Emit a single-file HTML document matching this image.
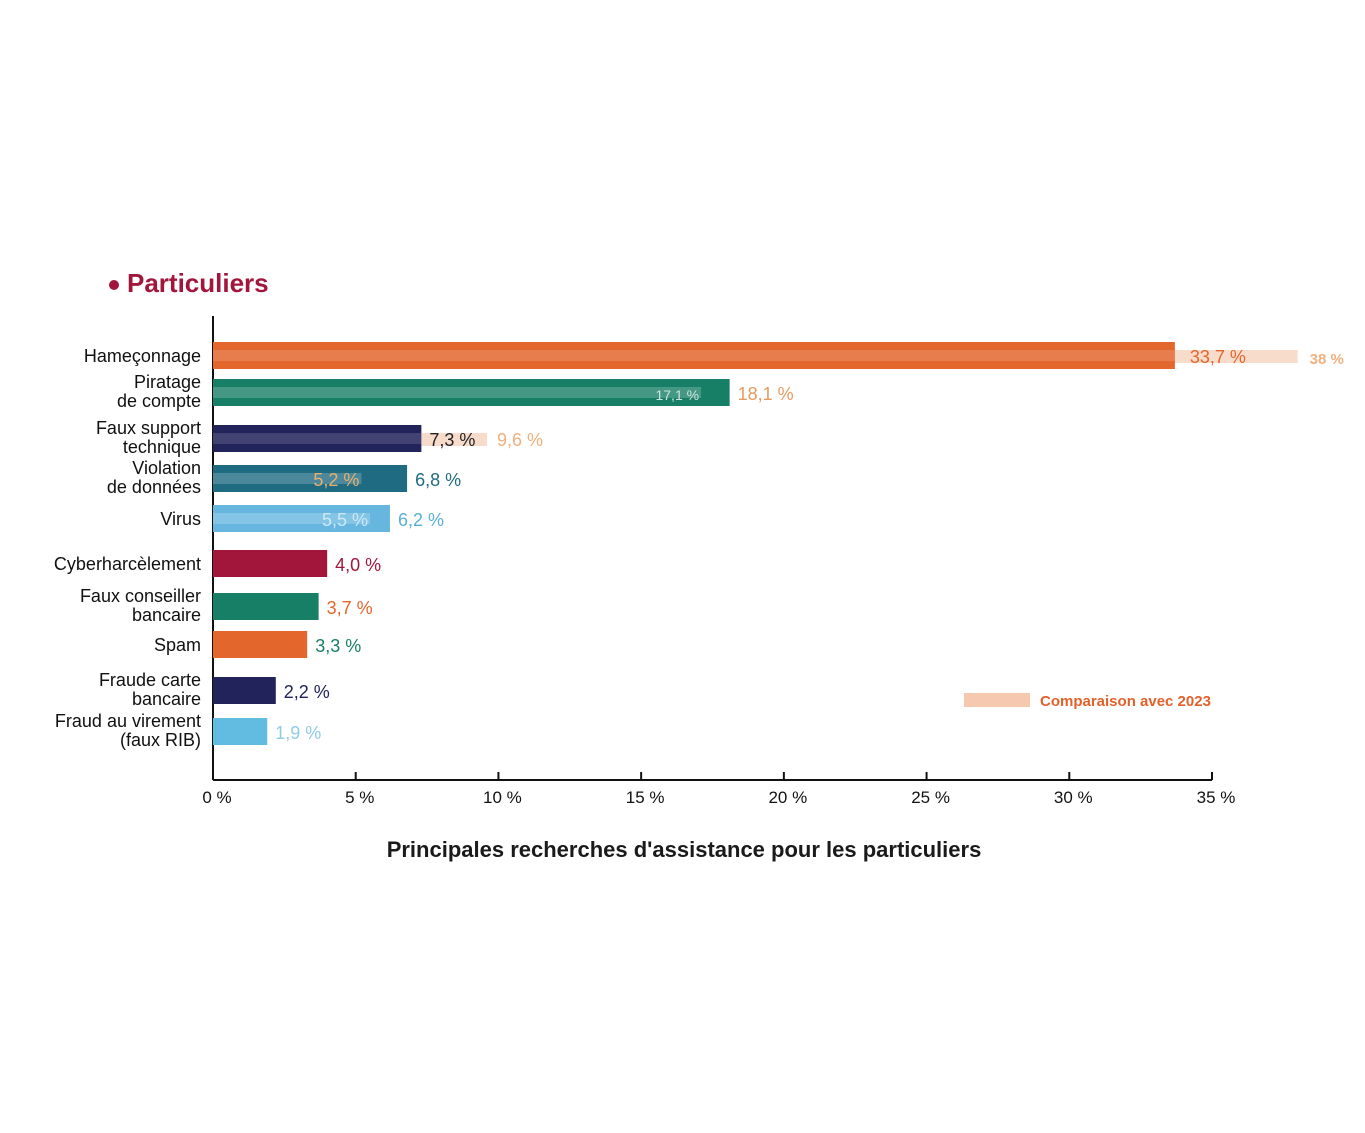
<!DOCTYPE html>
<html><head><meta charset="utf-8">
<style>
html,body{margin:0;padding:0;background:#fff;}
svg{display:block;font-family:"Liberation Sans",sans-serif;}
</style></head>
<body>
<svg id="chart" width="1365" height="1133" viewBox="0 0 1365 1133">
<circle cx="114" cy="285" r="5" fill="#a3163c"/>
<text x="127" y="292" font-size="26" font-weight="bold" fill="#a3163c">Particuliers</text>
<line x1="213" y1="316" x2="213" y2="780" stroke="#111" stroke-width="2"/>
<line x1="213" y1="780" x2="1212" y2="780" stroke="#111" stroke-width="2"/>
<g id="ticks"></g>
<g id="bars"></g>
<rect x="964" y="693" width="66" height="14" fill="#f6c8b0"/>
<text x="1040" y="706" font-size="15" font-weight="bold" fill="#e3612a">Comparaison avec 2023</text>
<text x="684" y="857" font-size="22" font-weight="bold" fill="#1a1a1a" text-anchor="middle">Principales recherches d'assistance pour les particuliers</text>
</svg>
<script>
const categories=[["Hameçonnage"],["Piratage","de compte"],["Faux support","technique"],["Violation","de données"],["Virus"],["Cyberharcèlement"],["Faux conseiller","bancaire"],["Spam"],["Fraude carte","bancaire"],["Fraud au virement","(faux RIB)"]];
const values2024=[33.7,18.1,7.3,6.8,6.2,4.0,3.7,3.3,2.2,1.9];
const values2023=[38,17.1,9.6,5.2,5.5,null,null,null,null,null];
const valueLabels=["33,7 %","18,1 %","7,3 %","6,8 %","6,2 %","4,0 %","3,7 %","3,3 %","2,2 %","1,9 %"];
const labels2023=["38 %","17,1 %","9,6 %","5,2 %","5,5 %",null,null,null,null,null];
const tickValues=[0,5,10,15,20,25,30,35];
const tickLabels=["0 %","5 %","10 %","15 %","20 %","25 %","30 %","35 %"];
const colors=["#e3662d","#167f66","#22235a","#1f6b82","#66b6df","#a3163c","#167f66","#e3662d","#22235a","#62bce2"];
const labelColors=["#e3662d","#e89a60","#222","#1f6b82","#5aaed8","#a3163c","#e3662d","#167f66","#22235a","#8fcbe8"];
const rowTops=[342,379,425,465,505,550,593,631,677,718];
const NS="http://www.w3.org/2000/svg";
const x=v=>213+v*(1212-213)/35;
function mk(t,a,parent){const e=document.createElementNS(NS,t);for(const k in a)e.setAttribute(k,a[k]);parent.appendChild(e);return e;}
const tg=document.getElementById('ticks');
tickValues.forEach((v,i)=>{
  const l=mk('line',{x1:x(v),x2:x(v),y1:780,y2:772,stroke:'#111','stroke-width':2},tg);
  
  
  const t=mk('text',{x:x(v)+4,y:803,'font-size':17,'text-anchor':'middle',fill:'#111'},tg);
  t.textContent=tickLabels[i];
  
  
});
const bg=document.getElementById('bars');
categories.forEach((c,i)=>{
  const top=rowTops[i],h=27,v=values2024[i],o=values2023[i];
  const lines=c.length;
  c.forEach((s,j)=>{
    const t=mk('text',{x:201,y:top+(lines===1?20:9+j*19),'font-size':18,'text-anchor':'end',fill:'#111'},bg);
    t.textContent=s;
    
    
  });
  if(o!==null && o>v){
    const p=mk('rect',{x:x(v),y:top+8,width:x(o)-x(v),height:13,fill:'#f8dccb'},bg);
    
    
  }
  const r=mk('rect',{x:213,y:top,width:x(v)-213,height:h,fill:colors[i]},bg);
  
  
  if(o!==null && o<=v){
    const p=mk('rect',{x:213,y:top+8,width:x(o)-213,height:11,fill:'#ffffff',opacity:0.2},bg);
    
    
  } else if(o!==null){
    const p=mk('rect',{x:213,y:top+8,width:x(v)-213,height:11,fill:'#ffffff',opacity:0.15},bg);
    
    
  }
  let lx=x(v)+8;
  if(o!==null && o>v && i===0) lx=x(v)+15;
  const t=mk('text',{x:lx,y:top+21,'font-size':18,fill:labelColors[i]},bg);
  t.textContent=valueLabels[i];
  
  
  if(labels2023[i]){
    let ax,anc='start',fs=18,fill='#f0b07e';
    if(o>v){ax=x(o)+ (i===0?12:10); if(i===0){fs=15;}}
    else {ax=x(o)-2;anc='end';fill=i===1?'#cfe5dc':(i===4?'#cde8f6':'#e8b070');if(i===1)fs=14;}
    const a=mk('text',{x:ax,y:top+(i===0?22:21),'font-size':fs,'text-anchor':anc,fill:fill,'font-weight':i===0?'bold':'normal'},bg);
    a.textContent=labels2023[i];
    
    
  }
});
</script>
</body></html>
